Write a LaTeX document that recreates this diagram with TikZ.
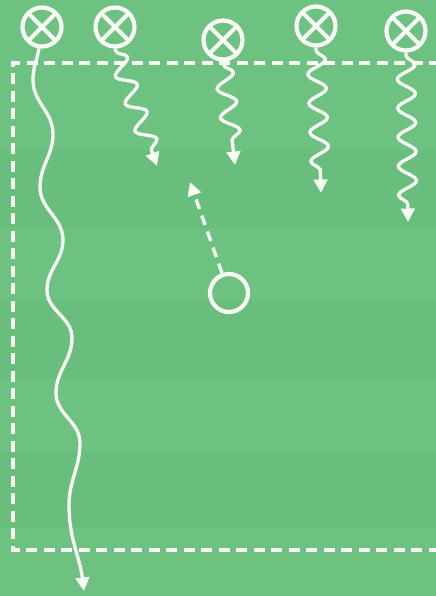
\documentclass[tikz,border=0pt]{standalone}
\usetikzlibrary{arrows.meta,decorations.pathmorphing}
\definecolor{pitch}{RGB}{109,194,130}
\definecolor{pitchdark}{RGB}{105,190,126}
\definecolor{chalk}{RGB}{248,252,244}
\tikzstyle{attacker}=[circle,draw=chalk,line width=2.4pt,minimum size=0.78cm,inner sep=0pt,path picture={\draw[chalk,line width=2.4pt] (path picture bounding box.north west) -- (path picture bounding box.south east) (path picture bounding box.north east) -- (path picture bounding box.south west);}]
\tikzstyle{defender}=[circle,draw=chalk,line width=2.4pt,minimum size=0.76cm,inner sep=0pt]
\tikzstyle{zone}=[chalk,line width=2.1pt,dash pattern=on 0.22cm off 0.13cm]
\tikzstyle{run}=[-{Triangle[length=0.27cm,width=0.27cm]},chalk,line width=1.9pt,decorate,decoration={snake,amplitude=0.18cm,segment length=0.58cm,pre length=0.06cm,post length=0.24cm}]
\tikzstyle{dribble}=[-{Triangle[length=0.27cm,width=0.27cm]},chalk,line width=1.9pt]
\tikzstyle{pass}=[-{Triangle[length=0.27cm,width=0.27cm]},chalk,line width=1.9pt,dash pattern=on 0.2cm off 0.14cm]

\begin{document}
\begin{tikzpicture}[x=0.02cm,y=-0.02cm]
\useasboundingbox (0,0) rectangle (436,596);
\clip (0,0) rectangle (436,596);
% pitch
\fill[pitch] (0,0) rectangle (436,596);
\fill[pitchdark] (0,150) rectangle (436,228);
\fill[pitchdark] (0,300) rectangle (436,378);
\fill[pitchdark] (0,452) rectangle (436,528);
% players
\node[attacker] (a1) at (42,27) {};
\node[attacker] (a2) at (115,27) {};
\node[attacker] (a3) at (223,40) {};
\node[attacker] (a4) at (316,26) {};
\node[attacker] (a5) at (406,31) {};
\node[defender] (d1) at (229,293) {};
% run ends
\coordinate (e1) at (84,591);
\coordinate (e2) at (157,166);
\coordinate (e3) at (235,165);
\coordinate (e4) at (321,193);
\coordinate (e5) at (408,222);
\coordinate (e6) at (190,182);
% zone
\draw[zone] (440,63) -- (13,63) -- (13,550) -- (440,550);
% runs
\draw[dribble] (a1.262) to[out=260,in=90] (33,80) to[out=270,in=90] (53,134)
  to[out=270,in=90] (40,187) to[out=270,in=90] (63,240) to[out=270,in=90] (47,290)
  to[out=270,in=90] (72,338) to[out=270,in=90] (56,393) to[out=270,in=90] (80,443)
  to[out=270,in=90] (69,505) to[out=270,in=97] (e1);
\draw[run] (a2.south) -- (e2);
\draw[run] (a3.south) -- (e3);
\draw[run] (a4.south) -- (e4);
\draw[run] (a5.south) -- (e5);
\draw[pass] (d1) -- (e6);
\end{tikzpicture}
\end{document}
